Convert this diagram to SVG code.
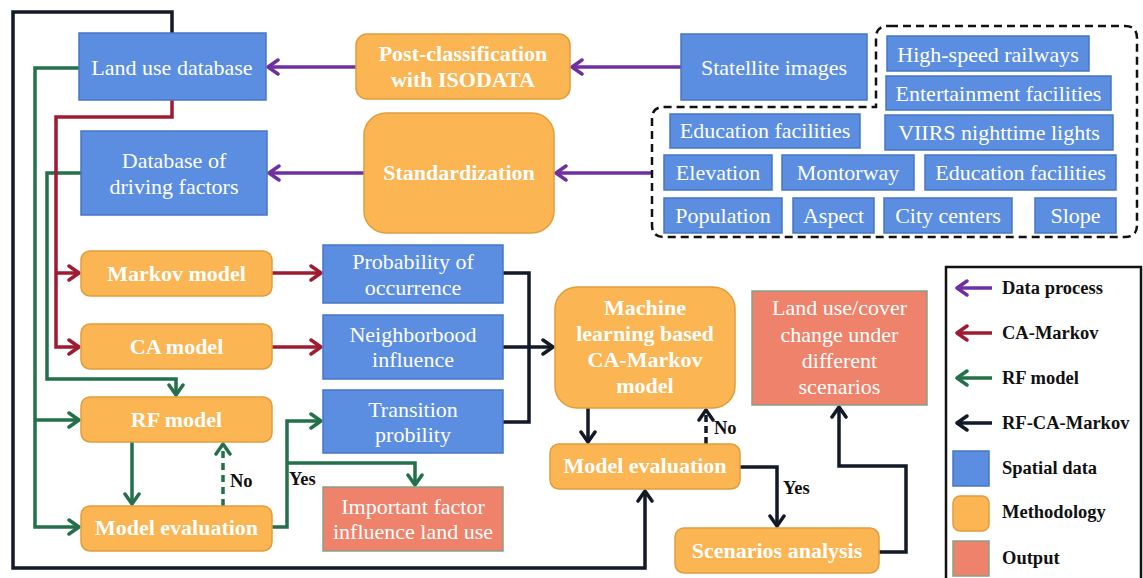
<svg xmlns="http://www.w3.org/2000/svg" width="1143" height="578" viewBox="0 0 1143 578">
<style>
.bl{fill:#5B8EE0;stroke:#4677C4;stroke-width:1.5}
.or{fill:#FBB552;stroke:#E29C3C;stroke-width:1.5}
.sa{fill:#EE826B;stroke:#86A187;stroke-width:1.5}
.t{font-family:"Liberation Serif","Times New Roman",serif;font-size:22px;fill:#fff;text-anchor:middle}
.tb{font-family:"Liberation Serif","Times New Roman",serif;font-size:22px;font-weight:bold;fill:#fff;text-anchor:middle}
.lb{font-family:"Liberation Serif","Times New Roman",serif;font-size:18.5px;font-weight:bold;fill:#111}
.c{fill:none;stroke-width:3.5;stroke-linejoin:miter}
.pu{stroke:#7030A0}.rd{stroke:#9E1B32}.gr{stroke:#23704A}.bk{stroke:#121A28}
</style>
<defs>
<marker id="ap" markerUnits="userSpaceOnUse" markerWidth="18" markerHeight="18" viewBox="0 0 18 18" refX="14" refY="9" orient="auto"><path d="M4,2 L14,9 L4,16" fill="none" stroke="#7030A0" stroke-width="3.5" stroke-linejoin="round" stroke-linecap="round"/></marker>
<marker id="ar" markerUnits="userSpaceOnUse" markerWidth="18" markerHeight="18" viewBox="0 0 18 18" refX="14" refY="9" orient="auto"><path d="M4,2 L14,9 L4,16" fill="none" stroke="#9E1B32" stroke-width="3.5" stroke-linejoin="round" stroke-linecap="round"/></marker>
<marker id="ag" markerUnits="userSpaceOnUse" markerWidth="18" markerHeight="18" viewBox="0 0 18 18" refX="14" refY="9" orient="auto"><path d="M4,2 L14,9 L4,16" fill="none" stroke="#23704A" stroke-width="3.5" stroke-linejoin="round" stroke-linecap="round"/></marker>
<marker id="ak" markerUnits="userSpaceOnUse" markerWidth="18" markerHeight="18" viewBox="0 0 18 18" refX="14" refY="9" orient="auto"><path d="M4,2 L14,9 L4,16" fill="none" stroke="#121A28" stroke-width="3.5" stroke-linejoin="round" stroke-linecap="round"/></marker>
</defs>
<rect width="1143" height="578" fill="#fff"/>

<g id="connectors">
<path class="c bk" d="M172,33 V12 H13 V568 H645 V491" stroke-width="4" marker-end="url(#ak)"/>
<path class="c pu" d="M681,67 H572" marker-end="url(#ap)"/>
<path class="c pu" d="M356,67 H268" marker-end="url(#ap)"/>
<path class="c pu" d="M652,173 H556" marker-end="url(#ap)"/>
<path class="c pu" d="M364,173 H269" marker-end="url(#ap)"/>
<path class="c gr" d="M79,68 H35 V527 H79" marker-end="url(#ag)"/>
<path class="c gr" d="M35,420 H79" marker-end="url(#ag)"/>
<path class="c gr" d="M81,173 H47 V379 H176 V395" marker-end="url(#ag)"/>
<path class="c gr" d="M132,442 V504" marker-end="url(#ag)"/>
<path class="c gr" d="M223,506 V444" stroke-dasharray="7 5" marker-end="url(#ag)"/>
<path class="c gr" d="M272,527 H287 V421 H321" marker-end="url(#ag)"/>
<path class="c gr" d="M287,463 H415 V485" marker-end="url(#ag)"/>
<path class="c rd" d="M172,100 V117 H56 V347 H79" marker-end="url(#ar)"/>
<path class="c rd" d="M56,273 H79" marker-end="url(#ar)"/>
<path class="c rd" d="M272,273 H321" marker-end="url(#ar)"/>
<path class="c rd" d="M272,347 H321" marker-end="url(#ar)"/>
<path class="c bk" d="M503,273 H529 V422 H503"/>
<path class="c bk" d="M503,347 H553" marker-end="url(#ak)"/>
<path class="c bk" d="M588,408 V442" marker-end="url(#ak)"/>
<path class="c bk" d="M706,444 V410" stroke-dasharray="7 4" marker-end="url(#ak)"/>
<path class="c bk" d="M740,467 H777 V526" marker-end="url(#ak)"/>
<path class="c bk" d="M879,552 H906 V466 H839 V407" marker-end="url(#ak)"/>
</g>

<path id="factor-group" d="M890,26 H1125 Q1137,26 1137,38 V225 Q1137,237 1125,237 H664 Q652,237 652,225 V119 Q652,107 664,107 H876 V38 Q876,26 888,26 Z" fill="none" stroke="#111" stroke-width="2.5" stroke-dasharray="8 5"/>

<g id="n-landuse"><rect class="bl" x="79" y="33" width="187" height="67"/><text class="t" x="172" y="75">Land use database</text></g>
<g id="n-driving"><rect class="bl" x="81" y="131" width="186" height="84"/><text class="t" x="174" y="168">Database of</text><text class="t" x="174" y="194">driving factors</text></g>
<g id="n-postclass"><rect class="or" x="356" y="34" width="214" height="65" rx="11"/><text class="tb" x="463" y="61">Post-classification</text><text class="tb" x="463" y="87">with ISODATA</text></g>
<g id="n-standard"><rect class="or" x="364" y="113" width="190" height="120" rx="22"/><text class="tb" x="459" y="180">Standardization</text></g>
<g id="n-satellite"><rect class="bl" x="681" y="34" width="186" height="66"/><text class="t" x="774" y="75">Statellite images</text></g>
<g id="n-hsr"><rect class="bl" x="887" y="36" width="202" height="35"/><text class="t" x="988" y="62">High-speed railways</text></g>
<g id="n-ent"><rect class="bl" x="886" y="76" width="225" height="34"/><text class="t" x="998.5" y="101">Entertainment facilities</text></g>
<g id="n-edu1"><rect class="bl" x="670" y="114" width="190" height="34"/><text class="t" x="765" y="138">Education facilities</text></g>
<g id="n-viirs"><rect class="bl" x="885" y="115" width="228" height="35"/><text class="t" x="999" y="140">VIIRS nighttime lights</text></g>
<g id="n-elev"><rect class="bl" x="664" y="155" width="108" height="35"/><text class="t" x="718" y="180">Elevation</text></g>
<g id="n-mont"><rect class="bl" x="782" y="155" width="132" height="35"/><text class="t" x="848" y="180">Montorway</text></g>
<g id="n-edu2"><rect class="bl" x="925" y="155" width="191" height="35"/><text class="t" x="1020.5" y="180">Education facilities</text></g>
<g id="n-pop"><rect class="bl" x="664" y="198" width="118" height="35"/><text class="t" x="723" y="223">Population</text></g>
<g id="n-aspect"><rect class="bl" x="793" y="198" width="81" height="35"/><text class="t" x="833.5" y="223">Aspect</text></g>
<g id="n-city"><rect class="bl" x="884" y="198" width="128" height="35"/><text class="t" x="948" y="223">City centers</text></g>
<g id="n-slope"><rect class="bl" x="1035" y="198" width="81" height="35"/><text class="t" x="1075.5" y="223">Slope</text></g>

<g id="n-markov"><rect class="or" x="81" y="251" width="191" height="45" rx="9"/><text class="tb" x="176.5" y="281">Markov model</text></g>
<g id="n-ca"><rect class="or" x="81" y="324" width="191" height="45" rx="9"/><text class="tb" x="176.5" y="354">CA model</text></g>
<g id="n-rf"><rect class="or" x="81" y="397" width="191" height="45" rx="9"/><text class="tb" x="176.5" y="427">RF model</text></g>
<g id="n-eval1"><rect class="or" x="81" y="506" width="191" height="45" rx="9"/><text class="tb" x="176.5" y="535">Model evaluation</text></g>
<g id="n-prob"><rect class="bl" x="323" y="245" width="180" height="58"/><text class="t" x="413" y="269">Probability of</text><text class="t" x="413" y="295">occurrence</text></g>
<g id="n-neigh"><rect class="bl" x="323" y="315" width="180" height="64"/><text class="t" x="413" y="342">Neighborbood</text><text class="t" x="413" y="367">influence</text></g>
<g id="n-trans"><rect class="bl" x="323" y="390" width="180" height="63"/><text class="t" x="413" y="417">Transition</text><text class="t" x="413" y="442">probility</text></g>
<g id="n-important"><rect class="sa" x="323" y="487" width="180" height="64"/><text class="t" x="413" y="514">Important factor</text><text class="t" x="413" y="539">influence land use</text></g>
<g id="n-ml"><rect class="or" x="555" y="287" width="180" height="121" rx="22"/><text class="tb" x="645" y="315">Machine</text><text class="tb" x="645" y="341">learning based</text><text class="tb" x="645" y="367">CA-Markov</text><text class="tb" x="645" y="393">model</text></g>
<g id="n-eval2"><rect class="or" x="550" y="444" width="190" height="45" rx="9"/><text class="tb" x="645" y="473">Model evaluation</text></g>
<g id="n-scen"><rect class="or" x="675" y="528" width="204" height="45" rx="9"/><text class="tb" x="777" y="558">Scenarios analysis</text></g>
<g id="n-lucc"><rect class="sa" x="752" y="291" width="175" height="114"/><text class="t" x="839.5" y="315">Land use/cover</text><text class="t" x="839.5" y="342">change under</text><text class="t" x="839.5" y="368">different</text><text class="t" x="839.5" y="394">scenarios</text></g>

<g id="labels">
<text class="lb" x="230" y="487">No</text>
<text class="lb" x="289" y="485">Yes</text>
<text class="lb" x="714" y="434">No</text>
<text class="lb" x="783" y="494">Yes</text>
</g>

<g id="legend">
<rect x="946" y="267" width="195" height="320" fill="none" stroke="#111" stroke-width="2.5"/>
<path class="c pu" d="M992,288 H957" marker-end="url(#ap)"/>
<path class="c rd" d="M992,333 H957" marker-end="url(#ar)"/>
<path class="c gr" d="M992,378 H957" marker-end="url(#ag)"/>
<path class="c bk" d="M992,423 H957" marker-end="url(#ak)"/>
<rect class="bl" x="953" y="451" width="36" height="35"/>
<rect class="or" x="953" y="496" width="36" height="35" rx="7"/>
<rect class="sa" x="953" y="541" width="36" height="35"/>
<text class="lb" x="1002" y="294">Data process</text>
<text class="lb" x="1002" y="339">CA-Markov</text>
<text class="lb" x="1002" y="384">RF model</text>
<text class="lb" x="1002" y="429">RF-CA-Markov</text>
<text class="lb" x="1002" y="474">Spatial data</text>
<text class="lb" x="1002" y="518">Methodology</text>
<text class="lb" x="1002" y="564">Output</text>
</g>
</svg>
